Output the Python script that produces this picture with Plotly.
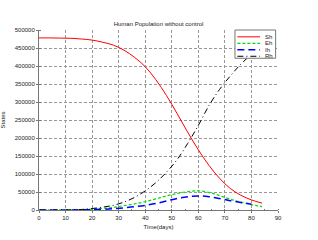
import plotly.graph_objects as go

t = [0, 4, 8, 12, 16, 20, 24, 28, 32, 36, 40, 44, 48, 52, 56, 60, 64, 68, 72, 76, 80, 84]
Sh = [478000, 478000, 477500, 477000, 475000, 472000, 466000, 458000, 444000, 424000, 398000,
      362000, 318000, 268000, 216000, 167000, 124000, 88000, 60000, 41000, 28000, 19000]
Eh = [0, 0, 100, 300, 1000, 2500, 4500, 7500, 12000, 17000, 23000,
      31000, 39000, 46000, 51000, 53000, 49000, 40000, 30000, 22000, 15000, 9500]
t_ih = [0, 4, 8, 12, 16, 20, 24, 28, 32, 36, 40, 44, 48, 52, 56, 60, 64, 68, 72, 76, 80]
Ih = [0, 0, 100, 200, 500, 1000, 2000, 3500, 6000, 9000, 13000,
      18000, 25000, 32000, 37000, 39000, 37000, 32000, 26000, 21000, 16000]
Rh = [0, 0, 200, 500, 1500, 4000, 8000, 13000, 22000, 35000, 53000,
      76000, 105000, 140000, 185000, 235000, 290000, 335000, 372000, 405000, 432000, 455000]

names = ["Sh", "Eh", "Ih", "Rh"]
colors = ["red", "#00dd00", "blue", "black"]
dashes = ["solid", "3px,2px", "7px,4px", "6px,3px,1px,3px"]
widths = [1, 1.2, 1.5, 1]

x_ticks = list(range(0, 91, 10))
y_ticks = list(range(0, 500001, 50000))

fig = go.Figure()
series = [(t, Sh), (t, Eh), (t_ih, Ih), (t, Rh)]
for (xs, ys), n, c, d, w in zip(series, names, colors, dashes, widths):
    fig.add_trace(go.Scatter(x=xs, y=ys, name=n, mode="lines",
                             line=dict(color=c, width=w, dash=d, shape="spline"),
                             showlegend=False))

# custom compact legend (box + sample lines + labels)
fig.add_shape(type="rect", xref="paper", yref="paper", x0=0.82, x1=0.99, y0=0.843, y1=1.0,
              line=dict(color="#777777", width=1), fillcolor="white", layer="above")
legend_y = [0.962, 0.926, 0.890, 0.854]
for n, c, d, w, ly in zip(names, colors, dashes, widths, legend_y):
    fig.add_shape(type="line", xref="paper", yref="paper", x0=0.83, x1=0.925, y0=ly, y1=ly,
                  line=dict(color=c, width=w, dash=d), layer="above")
    fig.add_annotation(x=0.943, y=ly, xref="paper", yref="paper", text=n, showarrow=False,
                       xanchor="left", yanchor="middle", borderpad=0,
                       font=dict(size=6, color="#222222"))

axis_common = dict(
    showgrid=True, gridcolor="#999999", griddash="3px,2px", gridwidth=0.7,
    showline=True, linecolor="#777777", linewidth=1,
    ticks="outside", ticklen=2, tickcolor="#777777",
    tickfont=dict(size=6, color="#222222", family="Liberation Sans"),
    zeroline=False, automargin=False,
    minor=dict(ticks="inside", ticklen=1.5, tickcolor="#777777", showgrid=False),
)

fig.update_layout(
    width=318, height=240,
    margin=dict(l=39, r=40, t=30, b=30),
    paper_bgcolor="white", plot_bgcolor="white",
    font=dict(family="Liberation Sans", size=6, color="#222222"),
    title=dict(text="Human Population without control", x=0.5, xref="paper", xanchor="center",
               y=1, yref="paper", yanchor="bottom", pad=dict(b=4), font=dict(size=6)),
    xaxis=dict(range=[0, 90], tickvals=x_ticks, title=dict(text="Time(days)", font=dict(size=6), standoff=4), **axis_common),
    yaxis=dict(range=[0, 500000], tickvals=y_ticks, tickformat="d",
               title=dict(text="States", font=dict(size=6), standoff=8), **axis_common),
    showlegend=False,
)

fig.write_html("out.html", config={"displayModeBar": False},
               post_script="document.body.style.margin='0';document.body.style.overflow='hidden';")
